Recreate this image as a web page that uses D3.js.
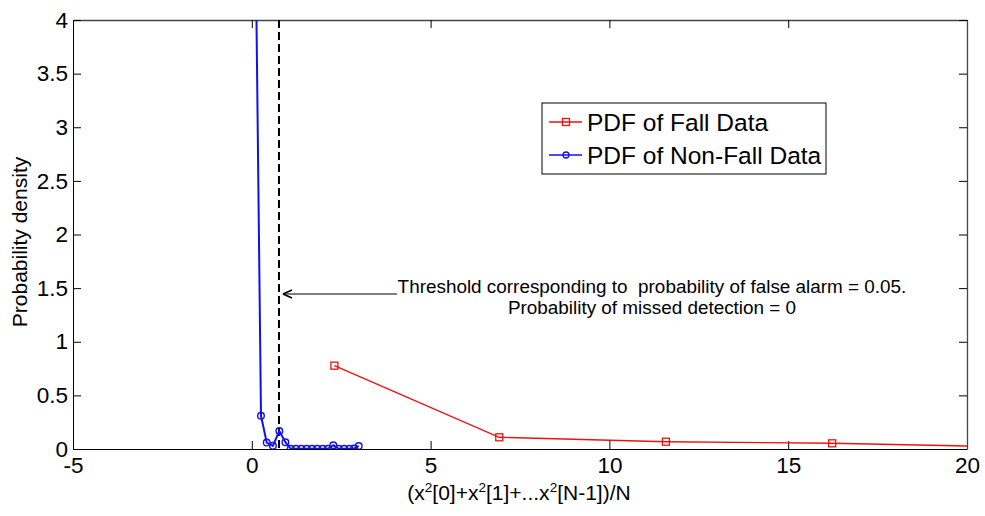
<!DOCTYPE html>
<html>
<head>
<meta charset="utf-8">
<script src="https://cdn.jsdelivr.net/npm/d3@7"></script>
<style>
  body { margin: 0; background: #fff; }
  svg { font-family: "Liberation Sans", Arial, sans-serif; }
</style>
</head>
<body>
<svg id="chart" width="985" height="516"></svg>
<script>
// values
var nonFallX = [0.105, 0.257, 0.417, 0.59, 0.77, 0.94, 1.088, 1.236, 1.385, 1.535, 1.683, 1.83, 1.98, 2.13, 2.28, 2.43, 2.58, 2.73, 2.86, 2.99]
var nonFallY = [4.76, 0.31, 0.06, 0.03, 0.168, 0.063, 0.002, 0.002, 0.002, 0.002, 0.002, 0.002, 0.002, 0.002, 0.035, 0.002, 0.002, 0.002, 0.004, 0.028]
var fallX = [2.31, 6.92, 11.58, 16.23, 20.87]
var fallY = [0.777, 0.109, 0.068, 0.053, 0.022]
var xTicks = [-5, 0, 5, 10, 15, 20]
var yTicks = [0, 0.5, 1, 1.5, 2, 2.5, 3, 3.5, 4]
var threshold = 0.76
var legendLabels = ["PDF of Fall Data", "PDF of Non-Fall Data"]
var noteLines = ["Threshold corresponding to  probability of false alarm = 0.05.", "Probability of missed detection = 0"]

var margin = {top: 20, right: 18, bottom: 67, left: 73}
var svg = d3.select("#chart")
var W = 985, H = 516
var w = W - margin.left - margin.right
var h = H - margin.top - margin.bottom

var x = d3.scaleLinear().domain([-5, 20]).range([0, w])
var y = d3.scaleLinear().domain([0, 4]).range([h, 0])

var g = svg.append("g").attr("transform", "translate(" + margin.left + "," + margin.top + ")")

svg.append("defs").append("clipPath").attr("id", "plotclip")
  .append("rect").attr("width", w).attr("height", h)

// plain labels like matlab does them (hyphen minus, no trailing .0)
var fmt = function(d) { return String(d) }

// MATLAB style box with ticks pointing inward on all four sides
var tickLen = 8
g.append("g").attr("transform", "translate(0," + h + ")")
  .call(d3.axisBottom(x).tickValues(xTicks).tickFormat(fmt).tickSizeInner(-tickLen).tickSizeOuter(0).tickPadding(8))
g.append("g").attr("class", "far")
  .call(d3.axisTop(x).tickValues(xTicks).tickSizeInner(-tickLen).tickSizeOuter(0).tickFormat(""))
g.append("g")
  .call(d3.axisLeft(y).tickValues(yTicks).tickFormat(fmt).tickSizeInner(-tickLen).tickSizeOuter(0).tickPadding(5))
g.append("g").attr("class", "far").attr("transform", "translate(" + w + ",0)")
  .call(d3.axisRight(y).tickValues(yTicks).tickSizeInner(-tickLen).tickSizeOuter(0).tickFormat(""))

g.selectAll(".domain").attr("stroke", "#000")
g.selectAll(".far .domain").attr("stroke", "#444").attr("stroke-width", 1.3)
g.selectAll(".tick line").attr("stroke", "#000")
g.selectAll(".tick text").attr("font-size", 22.5).attr("fill", "#000")
  .attr("font-family", "Liberation Sans, Arial, sans-serif")

// axis labels
g.append("text")
  .attr("x", w / 2 - 1).attr("y", h + 51)
  .attr("text-anchor", "middle").attr("font-size", 21)
  .html('(x<tspan dy="-8" font-size="13.5">2</tspan><tspan dy="8">[0]+x</tspan><tspan dy="-8" font-size="13.5">2</tspan><tspan dy="8">[1]+...x</tspan><tspan dy="-8" font-size="13.5">2</tspan><tspan dy="8">[N-1])/N</tspan>')

svg.append("text")
  .attr("transform", "translate(27,242) rotate(-90)")
  .attr("text-anchor", "middle").attr("font-size", 21)
  .text("Probability density")

var plot = g.append("g").attr("clip-path", "url(#plotclip)")

// threshold line
plot.append("line")
  .attr("x1", x(threshold)).attr("x2", x(threshold))
  .attr("y1", y(4)).attr("y2", y(0))
  .attr("stroke", "#000").attr("stroke-width", 2).attr("stroke-dasharray", "8,4")

var fallColor = "#ee1111", nonFallColor = "#1111ee"
var fall = fallX.map(function(d, i) { return [d, fallY[i]] })
var nonFall = nonFallX.map(function(d, i) { return [d, nonFallY[i]] })
var line = d3.line().x(function(d) { return x(d[0]) }).y(function(d) { return y(d[1]) })

plot.append("path").attr("d", line(fall))
  .attr("fill", "none").attr("stroke", fallColor).attr("stroke-width", 1.4)
plot.selectAll(".sq").data(fall).enter().append("rect")
  .attr("x", function(d) { return x(d[0]) - 3.5 }).attr("y", function(d) { return y(d[1]) - 3.5 })
  .attr("width", 7).attr("height", 7)
  .attr("fill", "none").attr("stroke", fallColor).attr("stroke-width", 1.3)

plot.append("path").attr("d", line(nonFall))
  .attr("fill", "none").attr("stroke", nonFallColor).attr("stroke-width", 2)
plot.selectAll(".ci").data(nonFall).enter().append("circle")
  .attr("cx", function(d) { return x(d[0]) }).attr("cy", function(d) { return y(d[1]) })
  .attr("r", 3.3)
  .attr("fill", "none").attr("stroke", nonFallColor).attr("stroke-width", 1.4)

// annotation with arrow pointing at the threshold
var arrowY = 294 - margin.top
var tipX = x(threshold) + 4
g.append("line")
  .attr("x1", tipX).attr("x2", 397 - margin.left)
  .attr("y1", arrowY).attr("y2", arrowY)
  .attr("stroke", "#000").attr("stroke-width", 1)
g.append("path")
  .attr("d", "M" + tipX + "," + arrowY + "l9,-4 M" + tipX + "," + arrowY + "l9,4")
  .attr("stroke", "#000").attr("stroke-width", 1.5).attr("fill", "none")
g.selectAll(".note").data(noteLines).enter().append("text")
  .attr("x", 652 - margin.left).attr("y", function(d, i) { return 293 - margin.top + i * 21 })
  .attr("text-anchor", "middle").attr("font-size", 18.9)
  .style("white-space", "pre")
  .text(function(d) { return d })

// legend
var lg = svg.append("g").attr("transform", "translate(542,103)")
lg.append("rect").attr("width", 284).attr("height", 71)
  .attr("fill", "#fff").attr("stroke", "#000").attr("stroke-width", 1)
var rows = [
  {label: legendLabels[0], color: fallColor, mark: "square", cy: 19},
  {label: legendLabels[1], color: nonFallColor, mark: "circle", cy: 52}
]
rows.forEach(function(r) {
  lg.append("line").attr("x1", 7).attr("x2", 40).attr("y1", r.cy).attr("y2", r.cy)
    .attr("stroke", r.color).attr("stroke-width", 1.4)
  if (r.mark === "square") {
    lg.append("rect").attr("x", 20.5).attr("y", r.cy - 3.5).attr("width", 7).attr("height", 7)
      .attr("fill", "none").attr("stroke", r.color).attr("stroke-width", 1.3)
  } else {
    lg.append("circle").attr("cx", 24).attr("cy", r.cy).attr("r", 3)
      .attr("fill", "none").attr("stroke", r.color).attr("stroke-width", 1.3)
  }
  lg.append("text").attr("x", 45).attr("y", r.cy + 9)
    .attr("font-size", 24.5).text(r.label)
})
</script>
</body>
</html>
